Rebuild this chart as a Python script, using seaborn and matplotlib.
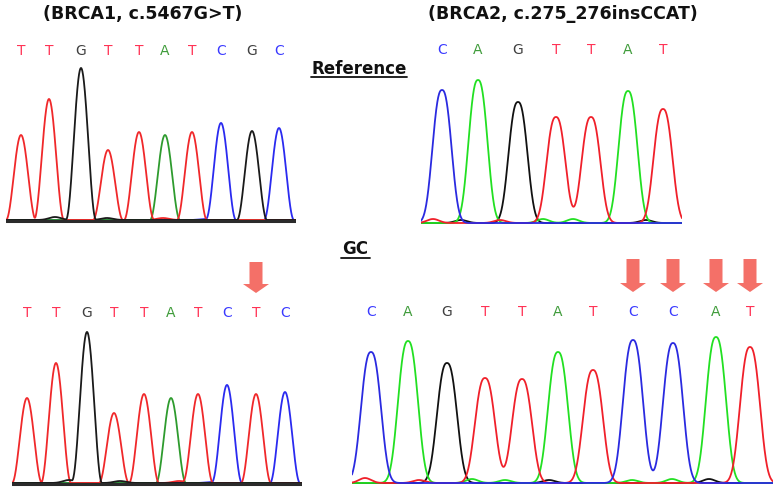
import numpy as np
import pandas as pd
import matplotlib
matplotlib.use("Agg")
import matplotlib.pyplot as plt
import seaborn as sns
from matplotlib.patches import FancyArrow
from matplotlib.lines import Line2D

sns.set_style("white")
plt.rcParams["font.family"] = ["DejaVu Sans"]

# ---- data: base calls, peak positions (scan) and peak heights (rfu) ----
brca1_ref_bases = list("TTGTTATCGC")
brca1_ref_scan = [15, 43, 75, 102, 133, 159, 186, 215, 246, 273]
brca1_ref_rfu = [85, 121, 152, 70, 88, 85, 88, 97, 89, 92]

brca1_gc_bases = list("TTGTTATCTC")
brca1_gc_scan = [15, 44, 75, 102, 132, 159, 186, 215, 244, 273]
brca1_gc_rfu = [85, 120, 151, 70, 89, 85, 89, 98, 89, 91]

brca2_ref_bases = list("CAGTTAT")
brca2_ref_scan = [21, 57, 97, 135, 170, 207, 242]
brca2_ref_rfu = [133, 143, 121, 106, 106, 132, 114]

brca2_gc_bases = list("CAGTTATCCAT")
brca2_gc_scan = [19, 56, 95, 133, 170, 206, 241, 281, 321, 364, 398]
brca2_gc_rfu = [131, 142, 120, 105, 104, 131, 113, 143, 140, 146, 136]

# small background bumps (scan, base, rfu)
brca1_ref_noise = [(49, "G", 3), (101, "G", 2), (157, "T", 2), (200, "C", 1)]
brca1_gc_noise = [(57, "G", 3), (108, "G", 2), (167, "T", 2), (200, "C", 1)]
brca2_ref_noise = [(12, "T", 4), (40, "G", 3), (79, "T", 3), (122, "A", 4), (152, "A", 4), (225, "G", 3)]
brca2_gc_noise = [(13, "T", 5), (67, "T", 3), (120, "A", 4), (153, "A", 3), (197, "G", 3),
                  (280, "A", 3), (320, "A", 4), (357, "G", 4)]

mutated_brca1 = [8]
mutated_brca2 = [7, 8, 9, 10]

left_colors = {"A": "#2e9b2e", "C": "#2a2af0", "G": "#1a1a1a", "T": "#f0282a"}
right_colors = {"A": "#22e022", "C": "#2a2ae0", "G": "#111111", "T": "#f0202a"}
letter_colors = {"A": "#3f9c3a", "C": "#3a3aff", "G": "#404040", "T": "#ff3355"}
arrow_color = "#f47068"

W, H = 776, 490
fig = plt.figure(figsize=(W / 100, H / 100), dpi=100)


def make_panel(x0, x1, base_y, top):
    ax = fig.add_axes([x0 / W, (H - base_y - 6) / H, (x1 - x0) / W, (top + 6) / H])
    ax.set_xlim(0, x1 - x0)
    ax.set_ylim(-6, top)
    ax.axis("off")
    return ax


def peak(d, kind, scale):
    if kind == "cos":
        return np.where(np.abs(d) < scale, np.cos(np.pi * d / (2 * scale)) ** 2, 0.0)
    return np.exp(-np.abs(d / scale) ** 2.5)


def build_traces(scan, bases, rfu, noise, kind, scale, width):
    x = np.linspace(0, width, 1200)
    frames = []
    for b in "ACGT":
        sig = np.zeros_like(x)
        for s, bb, h in zip(scan, bases, rfu):
            if bb == b:
                sig += h * peak(x - s, kind, scale)
        for s, bb, h in noise:
            if bb == b:
                sig += h * np.exp(-(x - s) ** 2 / (2 * 6.0 ** 2))
        frames.append(pd.DataFrame({"scan": x, "signal": sig, "base": b}))
    return pd.concat(frames, ignore_index=True)


def draw_panel(ax, scan, bases, rfu, noise, kind, scale, width, colors, order,
               letter_y, dark_base, arrows=(), arrow_top=0, arrow_tip=0):
    df = build_traces(scan, bases, rfu, noise, kind, scale, width)
    sns.lineplot(data=df, x="scan", y="signal", hue="base", hue_order=order,
                 palette=colors, estimator=None, legend=False, lw=1.3, ax=ax)
    if dark_base:
        ax.axhline(-0.8, color="#2b2b2b", lw=2.2, zorder=3)
    for s, b in zip(scan, bases):
        ax.text(s, letter_y, b, color=letter_colors[b], ha="center", va="center",
                fontsize=10, clip_on=False)
    for i in arrows:
        ax.add_patch(FancyArrow(scan[i], arrow_top, 0, arrow_tip - arrow_top,
                                width=13, head_width=26, head_length=9,
                                length_includes_head=True, color=arrow_color, lw=0))
    ax.set_xlabel("")
    ax.set_ylabel("")


ax1 = make_panel(6, 296, 220, 178)
draw_panel(ax1, brca1_ref_scan, brca1_ref_bases, brca1_ref_rfu, brca1_ref_noise,
           "cos", 15, 290, left_colors, ["C", "A", "T", "G"], 169, True)

ax2 = make_panel(421, 682, 223, 182)
draw_panel(ax2, brca2_ref_scan, brca2_ref_bases, brca2_ref_rfu, brca2_ref_noise,
           "gg", 12, 261, right_colors, ["G", "A", "T", "C"], 173, False)

ax3 = make_panel(12, 302, 483, 232)
draw_panel(ax3, brca1_gc_scan, brca1_gc_bases, brca1_gc_rfu, brca1_gc_noise,
           "cos", 15, 290, left_colors, ["C", "A", "T", "G"], 170, True,
           arrows=mutated_brca1, arrow_top=221, arrow_tip=190)

ax4 = make_panel(352, 773, 483, 232)
draw_panel(ax4, brca2_gc_scan, brca2_gc_bases, brca2_gc_rfu, brca2_gc_noise,
           "gg", 12.7, 421, right_colors, ["G", "A", "T", "C"], 171, False,
           arrows=mutated_brca2, arrow_top=224, arrow_tip=191)

# titles and labels
fig.text(143 / W, 1 - 14 / H, "(BRCA1, c.5467G>T)", ha="center", va="center",
         fontsize=12.5, fontweight="bold", color="#111111")
fig.text(563 / W, 1 - 14 / H, "(BRCA2, c.275_276insCCAT)", ha="center", va="center",
         fontsize=12.5, fontweight="bold", color="#111111")

fig.text(359 / W, 1 - 68.5 / H, "Reference", ha="center", va="center",
         fontsize=12, fontweight="bold", color="#111111")
fig.add_artist(Line2D([311 / W, 407 / W], [1 - 77 / H, 1 - 77 / H],
                      color="#111111", lw=1.3))
fig.text(355.5 / W, 1 - 249 / H, "GC", ha="center", va="center",
         fontsize=12, fontweight="bold", color="#111111")
fig.add_artist(Line2D([341 / W, 370 / W], [1 - 257.5 / H, 1 - 257.5 / H],
                      color="#111111", lw=1.3))

fig.savefig("out.png", dpi=100, facecolor="white")
